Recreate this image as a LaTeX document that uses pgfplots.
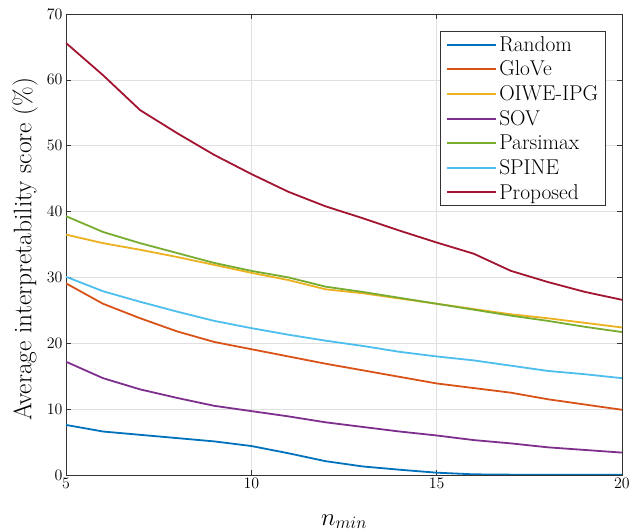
\RequirePackage{fix-cm}
\documentclass[border=0pt]{standalone}
\usepackage{fontspec}
\usepackage{pgfplots}
\usepackage{pgfplotstable}
\pgfplotsset{compat=1.18}
\definecolor{c1}{rgb}{0,0.447,0.741}
\definecolor{c2}{rgb}{0.850,0.325,0.098}
\definecolor{c3}{rgb}{0.929,0.694,0.125}
\definecolor{c4}{rgb}{0.494,0.184,0.556}
\definecolor{c5}{rgb}{0.466,0.674,0.188}
\definecolor{c6}{rgb}{0.301,0.745,0.933}
\definecolor{c7}{rgb}{0.635,0.078,0.184}
\pgfplotstableread{
x  Random GloVe OIWE SOV Parsimax SPINE Proposed
5  7.6  29.1 36.5 17.2 39.3 30.1 65.6
6  6.6  26.0 35.2 14.7 36.9 27.9 60.7
7  6.1  23.8 34.2 13.0 35.2 26.3 55.4
8  5.6  21.8 33.1 11.7 33.7 24.8 51.9
9  5.1  20.2 31.9 10.5 32.2 23.4 48.6
10 4.4  19.1 30.7 9.7  31.0 22.3 45.7
11 3.3  18.0 29.6 8.9  30.0 21.3 43.0
12 2.1  16.9 28.2 8.0  28.6 20.4 40.8
13 1.3  15.9 27.6 7.3  27.8 19.6 39.0
14 0.8  14.9 26.8 6.6  26.9 18.7 37.1
15 0.35 13.9 26.0 6.0  26.0 18.0 35.3
16 0.1  13.2 25.2 5.3  25.1 17.4 33.6
17 0.05 12.5 24.4 4.8  24.2 16.6 31.0
18 0.02 11.5 23.8 4.2  23.4 15.8 29.3
19 0.02 10.7 23.1 3.8  22.5 15.3 27.8
20 0.02 9.9  22.4 3.4  21.7 14.7 26.6
}\datatable
\begin{document}
\begin{tikzpicture}
\begin{axis}[
  scale only axis, width=556bp, height=461bp,
  xmin=5, xmax=20, ymin=0, ymax=70,
  xtick={5,10,15,20}, ytick={0,10,...,70},
  tick align=inside, major tick length=5bp,
  grid=major, grid style={color=black!12, line width=0.6bp},
  axis line style={black!80, line width=0.6bp},
  tick style={black!80, line width=0.6bp},
  ticklabel style={font=\fontsize{16}{19}\selectfont},
  xlabel={$n_{min}$},
  xlabel style={font=\fontsize{25}{30}\selectfont, at={(axis description cs:0.5,-0.1085)}, anchor=base},
  ylabel={Average interpretability score (\%)},
  ylabel style={font=\fontsize{25.5}{30}\selectfont, at={(axis description cs:-0.0737,0.49)}, anchor=center},
  legend style={at={(0.971,0.963)}, anchor=north east, font=\fontsize{21.5}{25}\selectfont, draw=black!80, line width=0.6bp, cells={anchor=west}, row sep=4.3pt, inner xsep=5.5pt, inner ysep=3pt},
  legend image code/.code={\draw[#1, line width=2bp] (0bp,0bp) -- (49bp,0bp);},
  every axis plot/.append style={line width=1.8bp},
]
\addplot[c1] table[x=x,y=Random]{\datatable};
\addlegendentry{Random}
\addplot[c2] table[x=x,y=GloVe]{\datatable};
\addlegendentry{GloVe}
\addplot[c3] table[x=x,y=OIWE]{\datatable};
\addlegendentry{OIWE-IPG}
\addplot[c4] table[x=x,y=SOV]{\datatable};
\addlegendentry{SOV}
\addplot[c5] table[x=x,y=Parsimax]{\datatable};
\addlegendentry{Parsimax}
\addplot[c6] table[x=x,y=SPINE]{\datatable};
\addlegendentry{SPINE}
\addplot[c7] table[x=x,y=Proposed]{\datatable};
\addlegendentry{Proposed}
\end{axis}
\pgfresetboundingbox
\path[use as bounding box] ([xshift=-66bp,yshift=-56bp]current axis.south west) rectangle ([xshift=9bp,yshift=14bp]current axis.north east);
\end{tikzpicture}
\end{document}
